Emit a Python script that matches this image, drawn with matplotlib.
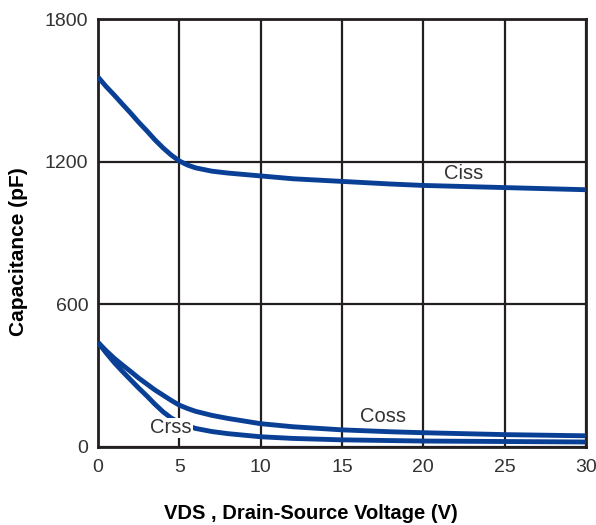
import matplotlib.pyplot as plt

# values (VDS in V, capacitance in pF)
vds = [0, 0.5, 1, 1.5, 2, 2.5, 3, 3.5, 4, 4.5, 5, 5.5, 6, 7, 8, 10, 12, 15, 18, 20, 25, 30]
ciss = [1556, 1516, 1480, 1442, 1405, 1366, 1330, 1292, 1258, 1228, 1203, 1186, 1174, 1160, 1152, 1140, 1128, 1117, 1106, 1100, 1091, 1082]
coss = [440, 405, 373, 345, 318, 290, 265, 240, 218, 196, 176, 162, 150, 133, 120, 98, 85, 72, 64, 60, 52, 47]
crss = [440, 396, 355, 318, 283, 248, 215, 180, 148, 122, 103, 89, 78, 65, 56, 43, 36, 30, 27, 25, 23, 21]

xticks = [0, 5, 10, 15, 20, 25, 30]
yticks = [0, 600, 1200, 1800]

line_color = '#0a3f96'
dark = '#231f20'
text_grey = '#333333'

plt.rcParams['font.family'] = ['Liberation Sans', 'DejaVu Sans']

fig = plt.figure(figsize=(5.96, 5.25), dpi=100)
ax = fig.add_axes([0.1644, 0.1486, 0.8186, 0.8152])

ax.plot(vds, ciss, color=line_color, lw=3.5, solid_capstyle='butt', zorder=3)
ax.plot(vds, coss, color=line_color, lw=3.5, solid_capstyle='butt', zorder=3)
ax.plot(vds, crss, color=line_color, lw=3.5, solid_capstyle='butt', zorder=3)

# curve labels
ax.text(22.5, 1152, 'Ciss', ha='center', va='center', fontsize=14.5, color=text_grey, zorder=4)
ax.text(17.5, 128, 'Coss', ha='center', va='center', fontsize=14.5, color=text_grey, zorder=4)
ax.text(4.5, 80, 'Crss', ha='center', va='center', fontsize=14.5, color=text_grey, zorder=4,
        bbox=dict(facecolor='white', edgecolor='none', pad=0.5))

ax.set_xlim(0, 30)
ax.set_ylim(0, 1800)
ax.set_xticks(xticks)
ax.set_yticks(yticks)
ax.grid(True, color=dark, lw=1.6)
ax.set_axisbelow(True)
ax.tick_params(length=0, labelsize=14, colors=text_grey)
ax.tick_params(axis='x', pad=9)
ax.tick_params(axis='y', pad=7)
for s in ax.spines.values():
    s.set_color(dark)
    s.set_linewidth(2)

xl = ax.set_xlabel('VDS , Drain-Source Voltage (V)', fontsize=14.5, fontweight='bold')
xl.set_va('center')
ax.xaxis.set_label_coords(0.4365, -0.1565)
yl = ax.set_ylabel('Capacitance (pF)', fontsize=15, fontweight='bold')
yl.set_va('center')
ax.yaxis.set_label_coords(-0.162, 0.4556)

fig.savefig('out.png', dpi=100)
